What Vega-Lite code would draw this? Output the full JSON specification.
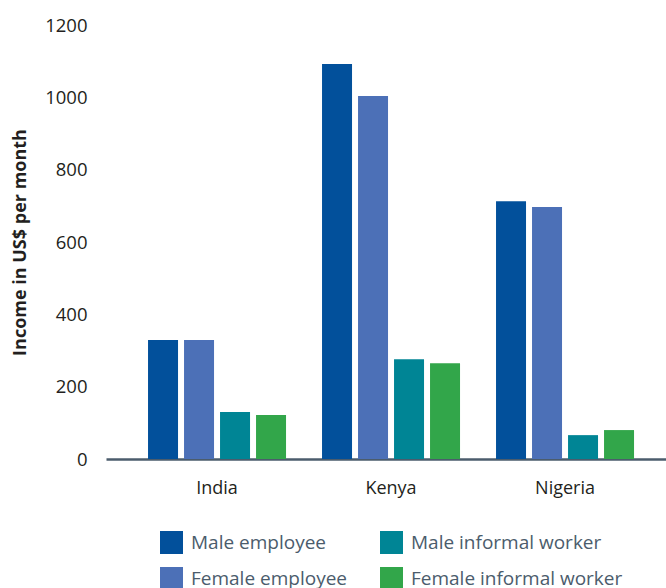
{
  "$schema": "https://vega.github.io/schema/vega-lite/v6.json",
  "autosize": "none",
  "width": 560,
  "height": 434,
  "padding": {"left": 106, "top": 25, "right": 0, "bottom": 129},
  "background": "white",
  "data": {
    "values": [
      {"country": "India", "group": "Male employee", "income": 329},
      {"country": "India", "group": "Female employee", "income": 329},
      {"country": "India", "group": "Male informal worker", "income": 130},
      {"country": "India", "group": "Female informal worker", "income": 122},
      {"country": "Kenya", "group": "Male employee", "income": 1092},
      {"country": "Kenya", "group": "Female employee", "income": 1004},
      {"country": "Kenya", "group": "Male informal worker", "income": 276},
      {"country": "Kenya", "group": "Female informal worker", "income": 265},
      {"country": "Nigeria", "group": "Male employee", "income": 713},
      {"country": "Nigeria", "group": "Female employee", "income": 697},
      {"country": "Nigeria", "group": "Male informal worker", "income": 66},
      {"country": "Nigeria", "group": "Female informal worker", "income": 80}
    ]
  },
  "mark": {"type": "bar"},
  "encoding": {
    "x": {
      "field": "country",
      "type": "nominal",
      "scale": {"paddingInner": 0.1724, "paddingOuter": 0.1954, "align": 0.574},
      "axis": {
        "title": null,
        "labelAngle": 0,
        "ticks": false,
        "labelPadding": 20,
        "labelFont": "Open Sans",
        "labelFontSize": 18,
        "labelColor": "#231f20",
        "domainColor": "#4b5c6c",
        "domainWidth": 2.5
      }
    },
    "xOffset": {
      "field": "group",
      "type": "nominal",
      "sort": ["Male employee", "Female employee", "Male informal worker", "Female informal worker"],
      "scale": {"paddingInner": 0.1667, "paddingOuter": 0.0833}
    },
    "y": {
      "field": "income",
      "type": "quantitative",
      "scale": {"domain": [0, 1200]},
      "axis": {
        "title": "Income in US$ per month",
        "values": [0, 200, 400, 600, 800, 1000, 1200],
        "format": "d",
        "grid": false,
        "domain": false,
        "ticks": false,
        "labelPadding": 19,
        "labelFont": "Open Sans",
        "labelFontSize": 18.5,
        "labelColor": "#231f20",
        "titleFont": "Open Sans",
        "titleFontSize": 18,
        "titleFontWeight": "bold",
        "titleColor": "#231f20",
        "titleX": -86,
        "titleBaseline": "middle"
      }
    },
    "color": {
      "field": "group",
      "type": "nominal",
      "scale": {
        "domain": ["Male employee", "Female employee", "Male informal worker", "Female informal worker"],
        "range": ["#02509b", "#4c70b7", "#008595", "#32a64a"]
      },
      "legend": {
        "title": null,
        "orient": "none",
        "legendX": 54,
        "legendY": 506,
        "columns": 2,
        "columnPadding": 33,
        "rowPadding": 13,
        "symbolType": "square",
        "symbolSize": 529,
        "symbolStrokeWidth": 0,
        "symbolOpacity": 1,
        "labelOffset": 8,
        "labelLimit": 0,
        "labelFont": "Open Sans",
        "labelFontSize": 19,
        "labelColor": "#4b5c6c",
        "padding": 0
      }
    }
  },
  "config": {"view": {"stroke": null}}
}
